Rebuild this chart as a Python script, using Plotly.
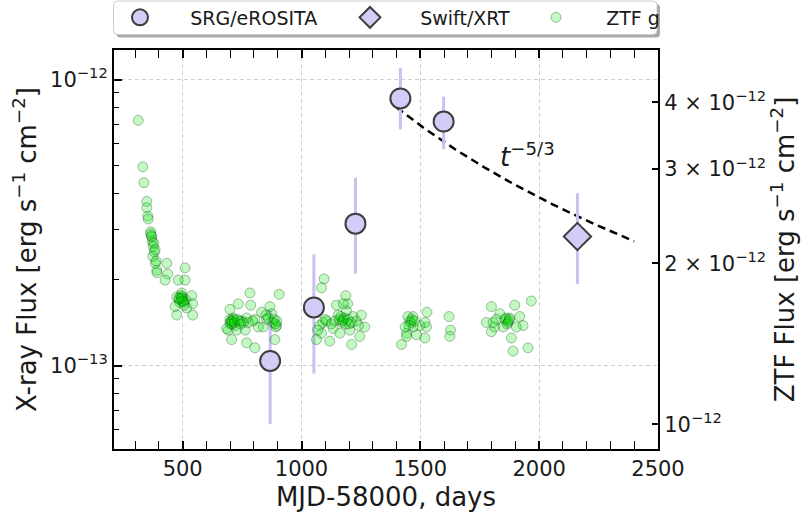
import numpy as np
import plotly.graph_objects as go

FONT = "DejaVu Sans"

# ---------------- X-ray light curve ----------------
# SRG/eROSITA: MJD-58000, flux and 1-sigma bounds (erg s^-1 cm^-2)
srg_t = [868, 1052, 1227, 1416, 1598]
srg_flux = [1.04e-13, 1.60e-13, 3.14e-13, 8.60e-13, 7.14e-13]
srg_hi = [1.57e-13, 2.45e-13, 4.55e-13, 1.10e-12, 8.72e-13]
srg_lo = [6.25e-14, 9.40e-14, 2.10e-13, 6.70e-13, 5.71e-13]

# Swift/XRT
xrt_t = [2161]
xrt_flux = [2.83e-13]
xrt_hi = [4.01e-13]
xrt_lo = [1.93e-13]

# ---------------- ZTF g-band light curve ----------------
# MJD-58000 and flux in units of 1e-12 erg s^-1 cm^-2
ztf_t = [
    313, 332, 337, 349, 349, 353, 355, 365, 370, 372, 376, 381, 374, 385, 391, 392,
    366, 368, 378, 384, 388,
    433, 437, 426, 510, 510, 481, 475, 496, 503, 486, 538, 542, 468, 517, 475, 542,
    496, 492, 500, 505, 488, 512, 494, 498, 507, 484,
    699, 692, 713, 734, 699, 748, 769, 783, 786, 804, 832, 867, 874, 895, 906, 888,
    839, 769, 804, 706, 685, 721, 727, 763, 853, 818, 699, 704, 710, 716, 740, 755,
    880, 885, 892, 860, 702, 708, 718, 730, 745, 890, 896, 776, 795, 850,
    1095, 1084, 1186, 1194, 1077, 1063, 1119, 1211, 1245, 1266, 1175, 1231, 1133, 1154,
    1189, 1105, 1161, 1203, 1217, 1084, 1252, 1147, 1176, 1090, 1100, 1170, 1180, 1140,
    1160, 1200, 1165, 1172, 1185, 1195, 1210, 1125, 1068, 1240,
    1455, 1421, 1528, 1526, 1519, 1469, 1498, 1442, 1484, 1448, 1621, 1627, 1624, 1470,
    1442, 1460, 1465, 1520, 1452, 1475, 1436,
    1799, 1778, 1799, 1834, 1855, 1876, 1897, 1918, 1932, 1967, 1953, 1890, 1883, 1813,
    1820, 1848, 1904, 1869, 1860, 1870, 1865, 1875, 1806,
]
ztf_flux_e12 = [
    3.70, 3.03, 2.83, 2.61, 2.54, 2.45, 2.42, 2.29, 2.24, 2.20, 2.15, 2.10, 2.06, 2.00, 1.94, 1.92,
    2.27, 2.25, 2.18, 2.12, 2.02,
    2.00, 1.91, 1.86, 1.96, 1.86, 1.86, 1.73, 1.72, 1.70, 1.71, 1.74, 1.68, 1.66, 1.65, 1.60, 1.60,
    1.76, 1.74, 1.73, 1.69, 1.69, 1.71, 1.72, 1.70, 1.67, 1.72,
    1.57, 1.50, 1.58, 1.68, 1.64, 1.56, 1.58, 1.76, 1.67, 1.57, 1.62, 1.66, 1.61, 1.53, 1.75, 1.44,
    1.52, 1.42, 1.39, 1.44, 1.51, 1.53, 1.50, 1.50, 1.57, 1.52, 1.55, 1.56, 1.54, 1.57, 1.56, 1.55,
    1.55, 1.57, 1.52, 1.58, 1.54, 1.56, 1.55, 1.57, 1.54, 1.54, 1.56, 1.55, 1.56, 1.60,
    1.87, 1.80, 1.74, 1.68, 1.53, 1.44, 1.43, 1.41, 1.46, 1.52, 1.57, 1.56, 1.51, 1.60,
    1.63, 1.56, 1.48, 1.50, 1.59, 1.48, 1.60, 1.67, 1.68, 1.55, 1.57, 1.55, 1.58, 1.56,
    1.57, 1.54, 1.59, 1.56, 1.54, 1.57, 1.55, 1.54, 1.50, 1.53,
    1.56, 1.41, 1.62, 1.52, 1.45, 1.59, 1.53, 1.48, 1.47, 1.59, 1.59, 1.50, 1.46, 1.52,
    1.46, 1.55, 1.57, 1.55, 1.53, 1.56, 1.52,
    1.66, 1.55, 1.49, 1.61, 1.57, 1.58, 1.67, 1.59, 1.53, 1.70, 1.39, 1.37, 1.45, 1.52,
    1.57, 1.52, 1.52, 1.55, 1.58, 1.56, 1.54, 1.57, 1.55,
]
ztf_flux = [v * 1e-12 for v in ztf_flux_e12]

# ---------------- t^-5/3 decline ----------------
model_t0 = 300.0          # disruption epoch, MJD-58000
model_tref = 1400.0       # normalisation epoch
model_fref = 8.0e-13      # flux at the normalisation epoch
model_t = np.linspace(1400, 2400, 200)
model_flux = model_fref * ((model_t - model_t0) / (model_tref - model_t0)) ** (-5.0 / 3.0)

# ---------------- styling ----------------
LAV_FILL = "#d5cbf7"
LAV_BAR = "#cbbff3"
EDGE = "#3d3d3d"

X0, X1 = 114, 658      # plot area in px
Y0, Y1 = 50, 449
W, H = 803, 514


def px_to_paper(px, py):
    return (px - X0) / (X1 - X0), (Y1 - py) / (Y1 - Y0)


PAD = "\u00a0" * 5

fig = go.Figure()

fig.add_trace(go.Scatter(
    x=ztf_t, y=ztf_flux, mode="markers", name=PAD + "ZTF g",
    yaxis="y2", legend="legend3",
    marker=dict(symbol="circle", size=10, color="rgba(0,230,0,0.24)",
                line=dict(color="rgba(0,60,0,0.32)", width=1)),
))

fig.add_trace(go.Scatter(
    x=model_t, y=model_flux, mode="lines", showlegend=False,
    line=dict(color="black", width=2.5, dash="8px,5px"),
))

fig.add_trace(go.Scatter(
    x=srg_t, y=srg_flux, mode="markers", name=PAD + "SRG/eROSITA",
    legend="legend",
    marker=dict(symbol="circle", size=20, color=LAV_FILL, line=dict(color=EDGE, width=2)),
    error_y=dict(type="data", symmetric=False,
                 array=[h - f for h, f in zip(srg_hi, srg_flux)],
                 arrayminus=[f - l for f, l in zip(srg_flux, srg_lo)],
                 color=LAV_BAR, thickness=3, width=0),
))

fig.add_trace(go.Scatter(
    x=xrt_t, y=xrt_flux, mode="markers", name=PAD + "Swift/XRT",
    legend="legend2",
    marker=dict(symbol="diamond", size=21, color=LAV_FILL, line=dict(color=EDGE, width=2)),
    error_y=dict(type="data", symmetric=False,
                 array=[h - f for h, f in zip(xrt_hi, xrt_flux)],
                 arrayminus=[f - l for f, l in zip(xrt_flux, xrt_lo)],
                 color=LAV_BAR, thickness=3, width=0),
))

fig.add_annotation(
    x=1950, y=np.log10(5.44e-13), xref="x", yref="y",
    text="<i>t</i><sup>\u22125/3</sup>", showarrow=False,
    font=dict(family=FONT, size=26, color="#1a1a1a"),
)


# legend frame with drop shadow (rounded box)
def rounded_box(px0, py0, px1, py1, r):
    ax, ay = px_to_paper(px0, py0)
    bx, by = px_to_paper(px1, py1)
    rx = r / (X1 - X0)
    ry = r / (Y1 - Y0)
    return (f"M {ax + rx},{ay} L {bx - rx},{ay} Q {bx},{ay} {bx},{ay - ry} "
            f"L {bx},{by + ry} Q {bx},{by} {bx - rx},{by} "
            f"L {ax + rx},{by} Q {ax},{by} {ax},{by + ry} "
            f"L {ax},{ay - ry} Q {ax},{ay} {ax + rx},{ay} Z")


fig.add_shape(type="path", xref="paper", yref="paper",
              path=rounded_box(116.5, 4, 660, 37.5, 4),
              fillcolor="#a8a8a8", line=dict(width=0), layer="above")
fig.add_shape(type="path", xref="paper", yref="paper",
              path=rounded_box(113.5, 1, 657, 34.5, 4),
              fillcolor="white", line=dict(color="#cccccc", width=1), layer="above")

legend_common = dict(orientation="h", yanchor="middle", xanchor="left",
                     bgcolor="rgba(0,0,0,0)", borderwidth=0,
                     font=dict(family=FONT, size=19, color="#1a1a1a"))
ly = px_to_paper(0, 17.5)[1]
fig.update_layout(
    legend=dict(x=px_to_paper(120, 0)[0], y=ly, **legend_common),
    legend2=dict(x=px_to_paper(350, 0)[0], y=ly, **legend_common),
    legend3=dict(x=px_to_paper(536, 0)[0], y=ly, **legend_common),
)

tick_font = dict(family=FONT, size=21, color="#1a1a1a")
title_font = dict(family=FONT, size=26, color="#1a1a1a")
grid = dict(showgrid=True, gridcolor="#cfcfcf", griddash="4px,3px", gridwidth=1)

fig.update_xaxes(
    range=[211, 2500], tickvals=[500, 1000, 1500, 2000, 2500],
    ticks="inside", ticklen=8, tickwidth=1.5, tickcolor="black",
    minor=dict(tickmode="linear", tick0=0, dtick=100, ticks="inside",
               ticklen=5, tickwidth=1.2, tickcolor="black"),
    showline=True, linecolor="black", linewidth=2, mirror="allticks",
    tickfont=tick_font, zeroline=False,
    title=dict(text="MJD-58000, days", font=title_font, standoff=8),
    **grid,
)

minor_left = [6e-14, 7e-14, 8e-14, 9e-14] + [k * 1e-13 for k in range(2, 10)]
fig.update_layout(
    yaxis=dict(
        type="log", range=[np.log10(5.12e-14), np.log10(1.27e-12)],
        tickvals=[1e-13, 1e-12], ticktext=["10<sup>\u221213</sup>", "10<sup>\u221212</sup>"],
        ticks="inside", ticklen=8, tickwidth=1.5, tickcolor="black",
        minor=dict(tickmode="array", tickvals=minor_left, ticks="inside",
                   ticklen=5, tickwidth=1.2, tickcolor="black"),
        showline=True, linecolor="black", linewidth=2, mirror=False,
        tickfont=tick_font, zeroline=False,
        title=dict(text="X-ray Flux [erg s<sup>\u22121</sup> cm<sup>\u22122</sup>]",
                   font=title_font, standoff=6),
        **grid,
    ),
    yaxis2=dict(
        type="log", overlaying="y", side="right",
        range=[np.log10(8.99e-13), np.log10(5.01e-12)],
        tickvals=[1e-12, 2e-12, 3e-12, 4e-12],
        ticktext=["10<sup>\u221212</sup>", "2 \u00d7 10<sup>\u221212</sup>",
                  "3 \u00d7 10<sup>\u221212</sup>", "4 \u00d7 10<sup>\u221212</sup>"],
        ticks="inside", ticklen=6, tickwidth=1.5, tickcolor="black",
        showline=True, linecolor="black", linewidth=2,
        tickfont=tick_font, showgrid=False, zeroline=False,
        title=dict(text="ZTF Flux [erg s<sup>\u22121</sup> cm<sup>\u22122</sup>]",
                   font=title_font, standoff=6),
    ),
    width=W, height=H,
    margin=dict(l=X0, r=W - X1, t=Y0, b=H - Y1, autoexpand=False),
    paper_bgcolor="white", plot_bgcolor="white",
    font=dict(family=FONT, color="#1a1a1a"),
)

fig.write_html("out.html")
